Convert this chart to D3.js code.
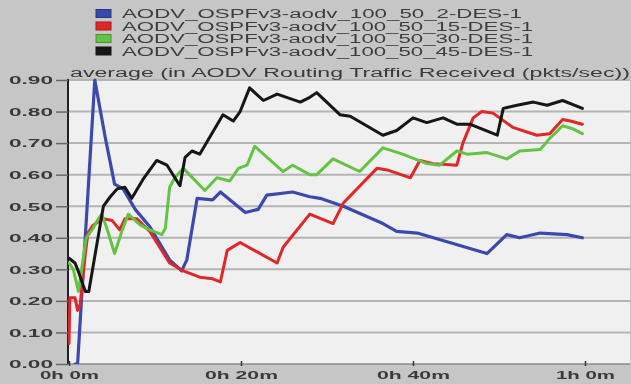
<!DOCTYPE html>
<html>
<head>
<meta charset="utf-8">
<script src="https://cdn.jsdelivr.net/npm/d3@7"></script>
<style>
  html, body { margin: 0; padding: 0; background: #c6c6c6; }
  svg { display: block; }
  text { font-family: "Liberation Sans", Arial, sans-serif; }
</style>
</head>
<body>
<svg id="chart" width="631" height="384"></svg>
<script>
// Series names shown in the legend
const seriesNames = [
  "AODV_OSPFv3-aodv_100_50_2-DES-1",
  "AODV_OSPFv3-aodv_100_50_15-DES-1",
  "AODV_OSPFv3-aodv_100_50_30-DES-1",
  "AODV_OSPFv3-aodv_100_50_45-DES-1"
];
const seriesColors = ["#3b4aae", "#e02626", "#62c443", "#151515"];

// Simulation time (minutes) and average traffic received (pkts/sec)
const t2  = [0.7, 1.0, 3.0, 4.2, 5.3, 6.3, 7.7, 9.4, 11.7, 13.1, 13.7, 14.9, 16.7, 17.6, 20.5, 22.0, 23.0, 26.0, 28.0, 29.2, 31.9, 36.5, 38.1, 40.5, 48.6, 50.9, 52.4, 54.8, 57.9, 59.7];
const v2  = [0.00, 0.00, 0.90, 0.72, 0.57, 0.555, 0.49, 0.435, 0.33, 0.295, 0.33, 0.525, 0.52, 0.545, 0.48, 0.49, 0.535, 0.545, 0.53, 0.525, 0.50, 0.445, 0.42, 0.415, 0.35, 0.41, 0.40, 0.415, 0.41, 0.40];

const t15 = [0.0, 0.1, 0.7, 1.0, 1.3, 1.9, 2.2, 2.8, 4.0, 5.0, 5.9, 6.5, 7.9, 9.4, 11.7, 13.3, 15.2, 16.7, 17.6, 18.4, 19.9, 24.2, 24.9, 28.0, 30.7, 31.9, 35.8, 37.0, 39.7, 40.8, 42.3, 45.1, 45.8, 47.0, 48.0, 49.3, 51.6, 54.4, 55.9, 57.4, 58.3, 59.7];
const v15 = [0.065, 0.21, 0.21, 0.17, 0.19, 0.35, 0.415, 0.44, 0.46, 0.455, 0.425, 0.46, 0.46, 0.42, 0.32, 0.295, 0.275, 0.27, 0.26, 0.36, 0.385, 0.32, 0.37, 0.475, 0.445, 0.51, 0.62, 0.615, 0.59, 0.645, 0.635, 0.63, 0.70, 0.78, 0.80, 0.795, 0.75, 0.725, 0.73, 0.775, 0.77, 0.76];

const t30 = [0.0, 0.5, 1.1, 2.0, 2.8, 3.3, 3.8, 4.4, 5.3, 6.2, 6.9, 8.3, 9.4, 10.8, 11.2, 11.7, 12.3, 13.3, 15.8, 17.2, 18.7, 19.7, 20.7, 21.6, 22.2, 24.9, 26.0, 28.0, 28.8, 30.7, 33.8, 36.5, 38.8, 41.6, 43.1, 45.1, 46.3, 48.6, 50.9, 52.4, 54.8, 55.9, 57.4, 58.6, 59.7];
const v30 = [0.32, 0.30, 0.23, 0.40, 0.43, 0.455, 0.475, 0.43, 0.35, 0.425, 0.475, 0.44, 0.425, 0.41, 0.43, 0.56, 0.59, 0.62, 0.55, 0.59, 0.58, 0.62, 0.63, 0.69, 0.675, 0.61, 0.63, 0.60, 0.60, 0.65, 0.61, 0.685, 0.665, 0.635, 0.63, 0.675, 0.665, 0.67, 0.65, 0.675, 0.68, 0.715, 0.755, 0.745, 0.73];

const t45 = [0.0, 0.7, 1.0, 1.9, 2.3, 4.0, 4.8, 5.6, 6.5, 7.3, 8.6, 10.2, 11.4, 12.9, 13.5, 14.3, 15.2, 16.6, 17.9, 19.1, 19.9, 21.0, 22.6, 24.2, 26.9, 28.0, 28.8, 31.5, 32.7, 36.5, 38.1, 40.0, 41.6, 43.5, 45.1, 46.6, 49.8, 50.5, 52.1, 54.0, 55.6, 57.4, 59.7];
const v45 = [0.335, 0.32, 0.30, 0.23, 0.23, 0.50, 0.53, 0.555, 0.56, 0.525, 0.585, 0.645, 0.63, 0.565, 0.655, 0.675, 0.665, 0.73, 0.79, 0.77, 0.80, 0.875, 0.835, 0.855, 0.83, 0.845, 0.86, 0.79, 0.785, 0.725, 0.74, 0.78, 0.765, 0.78, 0.76, 0.76, 0.725, 0.81, 0.82, 0.83, 0.82, 0.835, 0.81];

const seriesTimes  = [t2, t15, t30, t45];
const seriesValues = [v2, v15, v30, v45];

const yTicks = [0, 0.1, 0.2, 0.3, 0.4, 0.5, 0.6, 0.7, 0.8, 0.9];
const xTicks = [0, 20, 40, 60];
const xTickLabels = ["0h 0m", "0h 20m", "0h 40m", "1h 0m"];
const chartTitle = "average (in AODV Routing Traffic Received (pkts/sec))";

const svg = d3.select("#chart");
const W = 631, H = 384;
const plot = { left: 68, right: 630, top: 79, bottom: 364 };

// slight softening used on lines and labels
const defs = svg.append("defs");
defs.append("filter").attr("id", "soft")
  .append("feGaussianBlur").attr("stdDeviation", 0.45);

svg.append("rect").attr("width", W).attr("height", H).attr("fill", "#c6c6c6");

const x = d3.scaleLinear().domain([0, 60]).range([69, 585]);
const y = d3.scaleLinear().domain([0, 0.9]).range([364, 80]);

// plot background
svg.append("rect")
  .attr("x", plot.left).attr("y", plot.top)
  .attr("width", plot.right - plot.left).attr("height", plot.bottom - plot.top)
  .attr("fill", "#f0f0f0");

// horizontal grid
svg.append("g").selectAll("line").data(yTicks.filter(d => d > 0)).join("line")
  .attr("x1", plot.left).attr("x2", plot.right)
  .attr("y1", d => y(d)).attr("y2", d => y(d))
  .attr("stroke", "#b4b4b4").attr("stroke-width", 2);

// y axis
const yAxis = d3.axisLeft(y).tickValues(yTicks).tickSize(12).tickFormat(d3.format(".2f"));
const gy = svg.append("g").attr("transform", `translate(${plot.left},0)`).call(yAxis);
gy.select(".domain").attr("stroke", "#222").attr("stroke-width", 2)
  .attr("d", `M0,${plot.top}V${plot.bottom}`);
gy.selectAll(".tick line").attr("stroke", "#666").attr("stroke-width", 1.5);
gy.selectAll(".tick text")
  .attr("x", -15).attr("dy", "0.35em")
  .attr("fill", "#3a3a3a").attr("font-size", 11).attr("font-weight", "bold")
  .attr("textLength", 44).attr("lengthAdjust", "spacingAndGlyphs")
  .attr("filter", "url(#soft)");

// x axis
const xAxis = d3.axisBottom(x).tickValues(xTicks).tickSize(4)
  .tickFormat((d, i) => xTickLabels[i]);
const gx = svg.append("g").attr("transform", `translate(0,${plot.bottom})`).call(xAxis);
gx.select(".domain").attr("stroke", "#8a8a8a").attr("stroke-width", 1.5)
  .attr("d", `M${plot.left},0H${plot.right}`);
gx.selectAll(".tick line").attr("y1", -3).attr("y2", 2).attr("stroke", "#333").attr("stroke-width", 1.5);
gx.selectAll(".tick text")
  .attr("y", 7).attr("dy", "0.71em")
  .attr("fill", "#3a3a3a").attr("font-size", 11).attr("font-weight", "bold")
  .attr("textLength", (d, i) => (i === 0 || i === 3) ? 59 : 73)
  .attr("lengthAdjust", "spacingAndGlyphs")
  .attr("filter", "url(#soft)");
svg.selectAll(".tick text").attr("font-family", "'Liberation Sans', Arial, sans-serif");

// title
svg.append("text")
  .attr("x", 70).attr("y", 77)
  .attr("font-size", 12).attr("fill", "#3a3a3a")
  .attr("textLength", 560).attr("lengthAdjust", "spacingAndGlyphs")
  .attr("filter", "url(#soft)")
  .text(chartTitle);

// series lines
const line = d3.line().x(d => x(d[0])).y(d => y(d[1]));
defs.append("clipPath").attr("id", "plotClip").append("rect")
  .attr("x", plot.left).attr("y", plot.top - 4)
  .attr("width", plot.right - plot.left).attr("height", plot.bottom - plot.top + 4);
const lines = svg.append("g").attr("clip-path", "url(#plotClip)")
  .append("g").attr("filter", "url(#soft)");

seriesTimes.forEach((ts, i) => {
  const pts = ts.map((t, j) => [t, seriesValues[i][j]]);
  lines.append("path")
    .attr("d", line(pts))
    .attr("fill", "none")
    .attr("stroke", seriesColors[i])
    .attr("stroke-width", i === 0 ? 3.2 : 3)
    .attr("stroke-linejoin", "round")
    .attr("stroke-linecap", "round");
});

// legend
const legend = svg.append("g").attr("filter", "url(#soft)");
const rowY = [13.5, 26, 38.5, 51];
const rowLen = [400, 411, 411, 411];
seriesNames.forEach((name, i) => {
  legend.append("rect")
    .attr("x", 96).attr("y", rowY[i] - 4)
    .attr("width", 15).attr("height", 8)
    .attr("fill", seriesColors[i])
    .attr("stroke", d3.color(seriesColors[i]).darker(0.8)).attr("stroke-width", 1);
  legend.append("text")
    .attr("x", 122).attr("y", rowY[i] + 4.5)
    .attr("font-size", 12.5).attr("fill", "#3e3e3e")
    .attr("textLength", rowLen[i]).attr("lengthAdjust", "spacingAndGlyphs")
    .text(name);
});
</script>
</body>
</html>
